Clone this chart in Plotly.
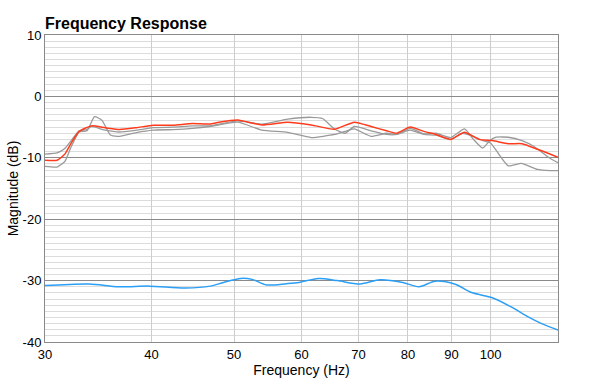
import plotly.graph_objects as go
import math

# ---- data ----
freq_red = [30.0, 31.0, 31.65, 32.2, 32.9, 34.0, 35.3, 36.7, 38.4, 40.2, 42.4, 44.7, 46.8, 48.0,
            50.5, 53.9, 57.8, 61.6, 65.6, 69.2, 72.4, 75.5, 77.5, 80.5, 83.5, 86.3, 89.8, 93.2,
            96.9, 100.5, 104.9, 108.9, 113.5, 117.0, 120.0]
mag_red = [-10.4, -10.4, -9.4, -7.6, -5.7, -4.8, -5.1, -5.4, -5.1, -4.7, -4.7, -4.4, -4.5, -4.2,
           -3.85, -4.65, -4.2, -4.65, -5.35, -4.2, -4.9, -5.6, -6.0, -5.0, -5.7, -6.2, -7.0, -5.85,
           -7.0, -7.2, -7.7, -7.7, -8.6, -9.3, -9.9]

freq_gray1 = [30.0, 31.0, 31.65, 32.2, 32.9, 33.6, 34.0, 35.3, 36.7, 38.4, 40.2, 42.4, 44.7, 46.8,
              50.5, 53.9, 57.8, 61.6, 63.5, 65.6, 67.5, 69.2, 72.4, 75.5, 77.5, 80.5, 83.5, 86.3,
              89.8, 93.2, 95.5, 97.9, 99.8, 101.5, 104.9, 108.9, 112.6, 116.9, 120.0]
mag_gray1 = [-9.4, -9.2, -8.5, -7.2, -5.6, -5.4, -4.9, -5.5, -5.8, -5.5, -5.1, -5.0, -4.8, -4.8,
             -4.0, -4.5, -3.7, -3.4, -3.6, -5.3, -6.0, -4.9, -5.6, -6.2, -6.2, -5.2, -6.1, -6.0,
             -6.7, -5.3, -7.0, -8.4, -7.2, -6.65, -6.65, -7.2, -8.2, -9.9, -10.8]

freq_gray2 = [30.0, 31.0, 31.65, 32.2, 32.9, 33.6, 34.3, 35.0, 35.8, 36.7, 38.4, 40.2, 42.4, 44.7,
              46.8, 50.5, 53.9, 57.8, 61.6, 65.6, 67.5, 69.2, 72.4, 75.5, 77.5, 80.5, 83.5, 86.3,
              89.8, 92.7, 95.5, 98.0, 100.0, 101.8, 104.9, 108.7, 113.5, 117.5, 120.0]
mag_gray2 = [-11.4, -11.5, -10.6, -8.2, -5.8, -5.6, -3.3, -3.9, -6.3, -6.5, -5.9, -5.5, -5.4, -5.2,
             -4.9, -4.2, -5.5, -5.85, -6.7, -6.2, -5.7, -5.3, -6.5, -6.0, -6.2, -5.5, -6.2, -6.3,
             -7.0, -6.0, -6.5, -7.2, -7.6, -9.0, -11.3, -10.9, -11.9, -12.1, -12.1]

freq_blue = [30.0, 33.8, 36.6, 39.8, 43.8, 46.9, 48.6, 50.9, 52.5, 54.6, 57.6, 59.6, 62.8, 66.1,
             70.3, 74.2, 78.9, 82.4, 86.1, 90.9, 95.0, 100.5, 105.6, 110.7, 114.8, 120.0]
mag_blue = [-30.8, -30.55, -31.0, -30.9, -31.2, -30.9, -30.3, -29.65, -29.8, -30.7, -30.5, -30.3,
            -29.65, -30.0, -30.55, -29.85, -30.3, -31.0, -30.1, -30.6, -31.95, -32.8, -34.25,
            -35.9, -37.0, -38.05]

x_ticks = [30, 40, 50, 60, 70, 80, 90, 100]
x_tick_labels = ["30", "40", "50", "60", "70", "80", "90", "100"]
y_ticks = [-40, -30, -20, -10, 0, 10]
y_tick_labels = ["-40", "-30", "-20", "-10", "0", "10"]
x_limits = [30, 120]
y_limits = [-40, 10]
ref_freq = 100

FONT = "Liberation Sans, Arial, Helvetica, sans-serif"

fig = go.Figure()
fig.add_trace(go.Scatter(x=freq_gray1, y=mag_gray1, mode="lines",
                         line=dict(color="#9a9a9a", width=1.3, shape="spline", smoothing=0.5),
                         showlegend=False, hoverinfo="skip"))
fig.add_trace(go.Scatter(x=freq_gray2, y=mag_gray2, mode="lines",
                         line=dict(color="#9a9a9a", width=1.3, shape="spline", smoothing=0.5),
                         showlegend=False, hoverinfo="skip"))
fig.add_trace(go.Scatter(x=freq_red, y=mag_red, mode="lines",
                         line=dict(color="#ff3b1c", width=1.5, shape="spline", smoothing=0.5),
                         showlegend=False))
fig.add_trace(go.Scatter(x=freq_blue, y=mag_blue, mode="lines",
                         line=dict(color="#2b9ef5", width=1.5, shape="spline", smoothing=0.8),
                         showlegend=False))

fig.add_shape(type="line", xref="x", yref="paper", x0=ref_freq, x1=ref_freq, y0=0, y1=1,
              line=dict(color="#8a8a8a", width=1), layer="below")

fig.update_layout(
    width=591, height=381,
    margin=dict(l=45, r=33, t=35, b=39, autoexpand=False),
    paper_bgcolor="white", plot_bgcolor="white",
    font=dict(family=FONT, size=13, color="black"),
    title=dict(text="<b>Frequency Response</b>", x=45 / 591, xanchor="left",
               y=1 - 23 / 381, yanchor="middle", yref="container",
               font=dict(family=FONT, size=16, color="black")),
    xaxis=dict(type="log", range=[math.log10(x_limits[0]), math.log10(x_limits[1])],
               tickvals=x_ticks, ticktext=x_tick_labels, ticks="",
               showgrid=True, gridcolor="#cdcdcd", gridwidth=1,
               showline=True, linecolor="#8a8a8a", linewidth=1, mirror=True,
               zeroline=False, ticklabelstandoff=0, automargin=False,
               tickfont=dict(size=13),
               title=dict(text="Frequency (Hz)", standoff=0, font=dict(size=14))),
    yaxis=dict(range=y_limits, tickvals=y_ticks, ticktext=y_tick_labels, ticks="",
               showgrid=True, gridcolor="#8a8a8a", gridwidth=1,
               minor=dict(dtick=1, showgrid=True, gridcolor="#dcdcdc", gridwidth=1),
               showline=True, linecolor="#8a8a8a", linewidth=1, mirror=True,
               zeroline=False, ticklabelstandoff=0, automargin=False,
               title=dict(text="Magnitude (dB)", standoff=0, font=dict(size=14))),
)

fig.write_html("out.html", config={"displayModeBar": False},
               post_script="document.body.style.margin='0';document.body.style.padding='0';")
